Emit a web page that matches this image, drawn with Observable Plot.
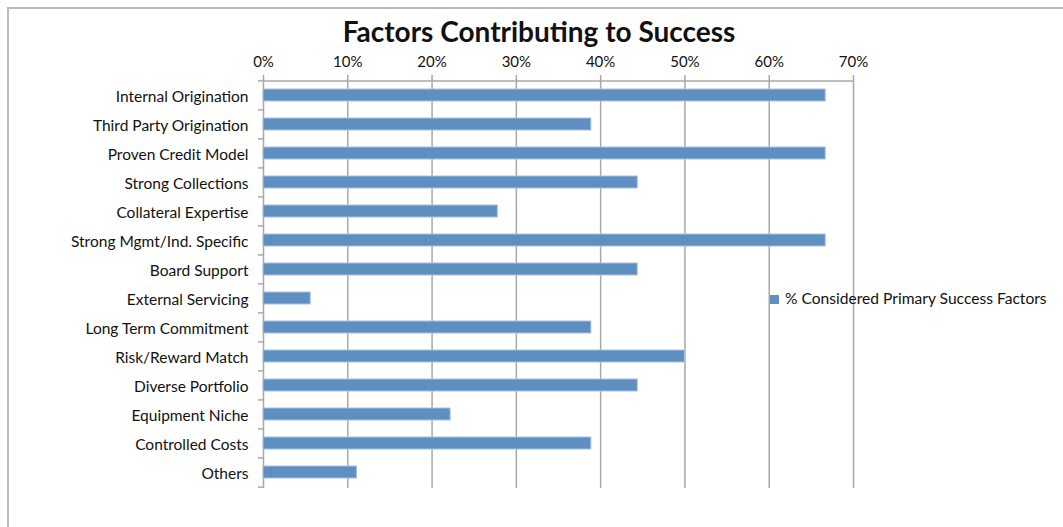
<!DOCTYPE html>
<html>
<head>
<meta charset="utf-8">
<script src="https://cdn.jsdelivr.net/npm/d3@7"></script>
<script src="https://cdn.jsdelivr.net/npm/@observablehq/plot@0.6"></script>
<style>
  html, body { margin: 0; padding: 0; background: #fff; }
  #wrap { position: relative; width: 1063px; height: 527px; overflow: hidden; font-family: Lato, "Open Sans", sans-serif; color: #111; }
  #frame { position: absolute; left: 7px; top: 7px; width: 1100px; height: 600px; border-left: 2px solid #bcbcbc; border-top: 2px solid #bcbcbc; box-sizing: border-box; }
  #title { position: absolute; left: 0; top: 15px; width: 1078px; text-align: center; font-weight: bold; font-size: 28px; line-height: 32px; }
  #chart { position: absolute; left: 0; top: 50px; }
  #legend { position: absolute; left: 770px; top: 288px; font-size: 15.6px; line-height: 20px; white-space: nowrap; }
  #legend .sw { display: inline-block; width: 9px; height: 9px; background: #5f8fc1; margin-right: 6px; vertical-align: 0px; }
</style>
</head>
<body>
<div id="wrap">
  <div id="frame"></div>
  <div id="title"></div>
  <div id="chart"></div>
  <div id="legend"></div>
</div>
<script>
const title = "Factors Contributing to Success";
const seriesName = "% Considered Primary Success Factors";
const categories = [
  "Internal Origination",
  "Third Party Origination",
  "Proven Credit Model",
  "Strong Collections",
  "Collateral Expertise",
  "Strong Mgmt/Ind. Specific",
  "Board Support",
  "External Servicing",
  "Long Term Commitment",
  "Risk/Reward Match",
  "Diverse Portfolio",
  "Equipment Niche",
  "Controlled Costs",
  "Others"
];
const values = [0.667, 0.389, 0.667, 0.444, 0.278, 0.667, 0.444, 0.056, 0.389, 0.500, 0.444, 0.222, 0.389, 0.111];
const xTicks = [0, 0.1, 0.2, 0.3, 0.4, 0.5, 0.6, 0.7];
const xTickLabels = ["0%", "10%", "20%", "30%", "40%", "50%", "60%", "70%"];

const data = categories.map((c, i) => ({category: c, value: values[i]}));

const W = 1063, H = 477;
const mTop = 29, mBottom = 39, mLeft = 263, mRight = 210;
const step = (H - mTop - mBottom) / categories.length;
const grid = "#a8a8a8";
const barColor = "#5f8fc1";

document.getElementById("title").textContent = title;
const lg = document.getElementById("legend");
const sw = document.createElement("span"); sw.className = "sw";
lg.appendChild(sw);
lg.appendChild(document.createTextNode(seriesName));

const chart = Plot.plot({
  width: W,
  height: H,
  marginTop: mTop,
  marginBottom: mBottom,
  marginLeft: mLeft,
  marginRight: mRight,
  style: {fontFamily: "Lato, 'Open Sans', sans-serif", fontSize: "15.5px", color: "#111", background: "transparent"},
  x: {domain: [0, 0.7], axis: null},
  y: {domain: categories, paddingInner: 0.6, paddingOuter: 0.3, axis: null},
  marks: [
    Plot.ruleX(xTicks, {stroke: grid, strokeWidth: 1.5, insetTop: -4}),
    Plot.ruleY([categories[0]], {stroke: grid, strokeWidth: 1.5, dy: -step / 2}),
    Plot.ruleY(categories, {x1: 0, x2: 0, insetLeft: -5, stroke: grid, strokeWidth: 1.5, dy: -step / 2}),
    Plot.ruleY([categories[categories.length - 1]], {x1: 0, x2: 0, insetLeft: -5, stroke: grid, strokeWidth: 1.5, dy: step / 2}),
    Plot.barX(data, {x: "value", y: "category", fill: barColor, stroke: "#a9c1df", strokeWidth: 1}),
    Plot.axisX(xTicks, {anchor: "top", label: null, tickSize: 0, tickPadding: 13, tickFormat: (d, i) => xTickLabels[i], fontSize: "15px"}),
    Plot.axisY(categories, {anchor: "left", label: null, tickSize: 0, tickPadding: 15, dy: 2, fontSize: "15.5px"})
  ]
});
document.getElementById("chart").appendChild(chart);
</script>
</body>
</html>
